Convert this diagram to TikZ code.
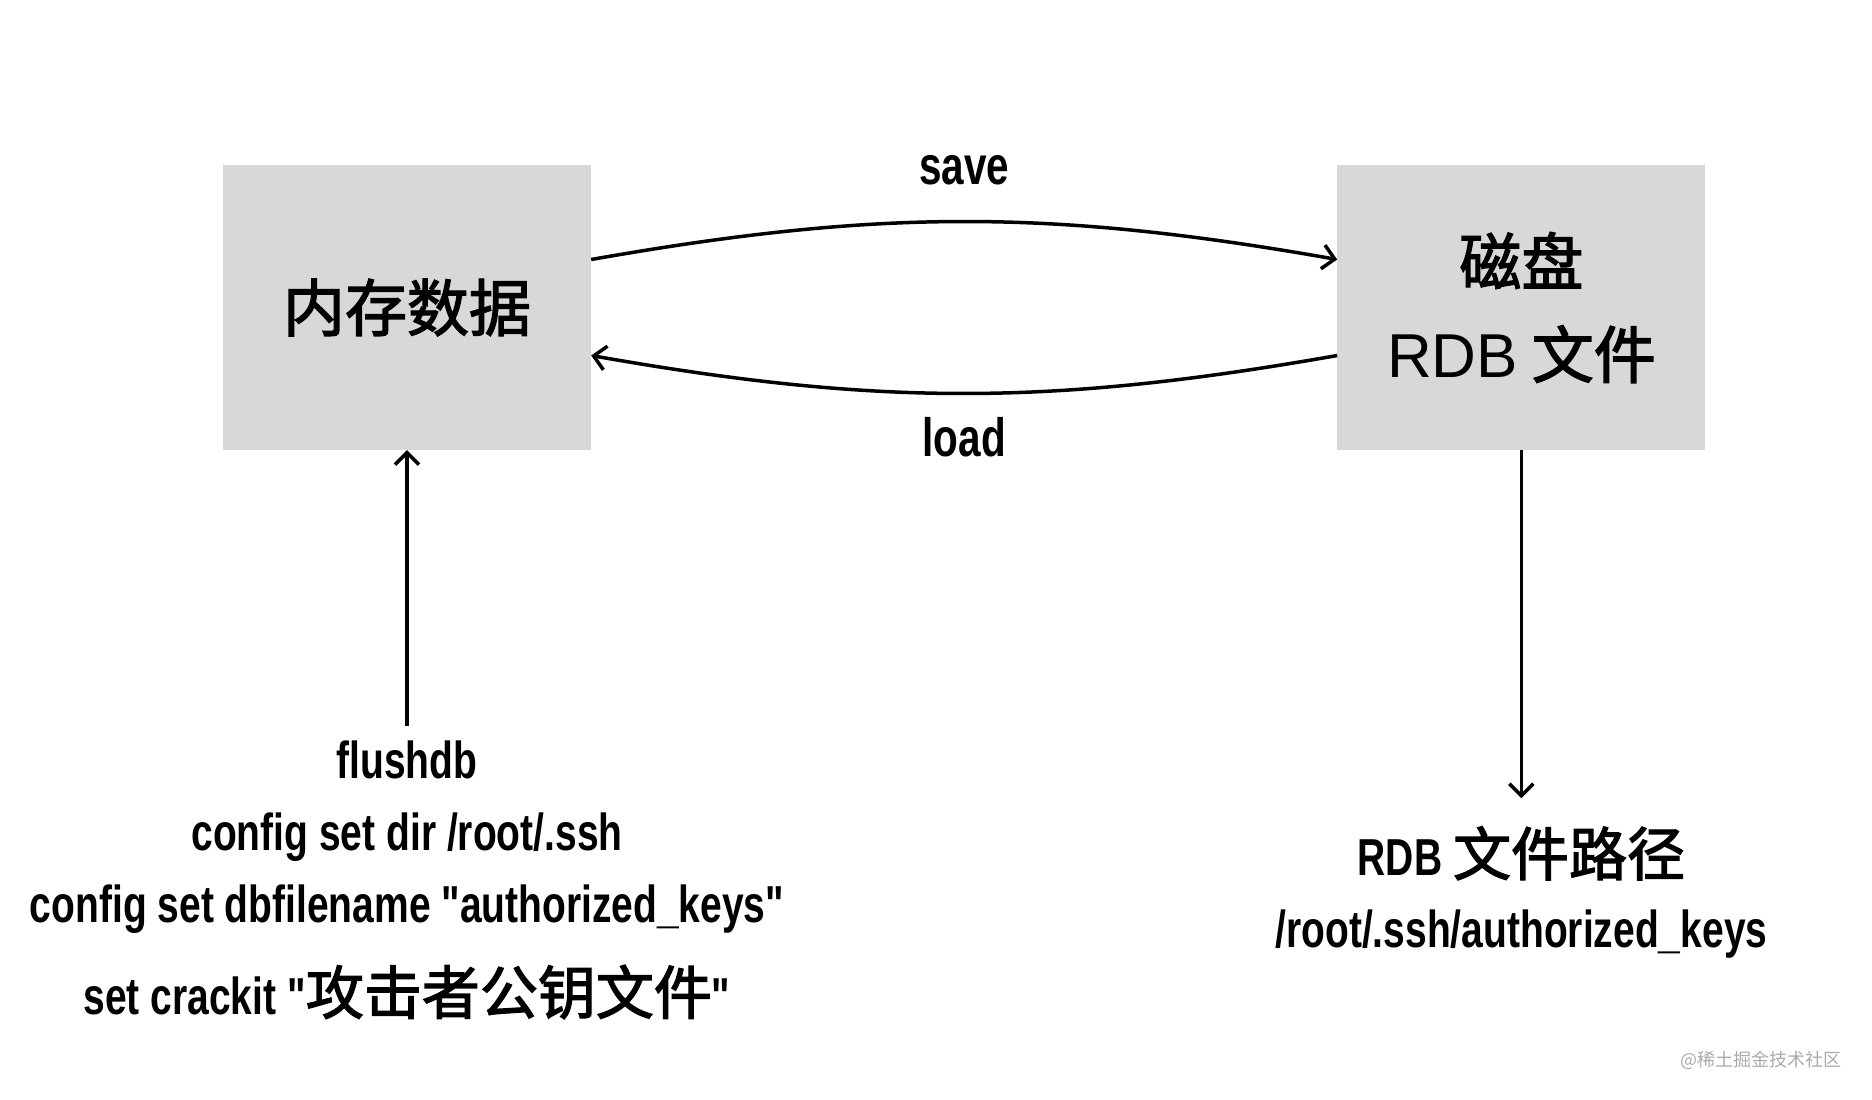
\documentclass[tikz,border=0pt]{standalone}
\usepackage{fontspec}
\setmainfont{Liberation Sans}
\newfontfamily\cjkfont[FakeBold=2.2]{Noto Sans CJK SC}
\newfontfamily\cjkplain{Noto Sans CJK SC}
\newfontfamily\condfont[FakeStretch=0.75]{Liberation Sans}
\usepackage{tikz}
\usetikzlibrary{arrows.meta,positioning}
\definecolor{boxgray}{HTML}{D8D8D8}
\definecolor{markgray}{HTML}{ABABAB}
\newcommand{\zhtext}[1]{{\cjkfont\mdseries\fontsize{58}{72}\selectfont #1}}
\tikzset{
  store/.style={rectangle,fill=boxgray,minimum width=368pt,minimum height=285pt,
    inner sep=0pt,align=center,font=\cjkfont\fontsize{62}{93}\selectfont},
  cmdtext/.style={align=center,inner sep=14pt,font=\condfont\bfseries\fontsize{52}{72}\selectfont},
  flowlabel/.style={inner sep=14pt,font=\condfont\bfseries\fontsize{54}{60}\selectfont},
  myarrow/.style={-{Straight Barb[length=12pt,width=24pt]},line width=3.5pt,black},
}

\begin{document}
\begin{tikzpicture}[x=1pt,y=1pt,node distance=746pt]
  \useasboundingbox (0,0) rectangle (1872,-1100);
  \node[store] (mem) at (407,-307.5) {内存数据};
  \node[store,right=746pt of mem] (disk) {磁盘\\{\rmfamily RDB} 文件};
  \draw[myarrow] ([yshift=48pt]mem.east) to[out=10,in=170]
    node[flowlabel,midway,above=21pt] {save} ([yshift=48pt]disk.west);
  \draw[myarrow] ([yshift=-48pt]disk.west) to[out=190,in=-10]
    node[flowlabel,midway,below=8pt] {load} ([yshift=-48pt]mem.east);
  \node[cmdtext,below=276pt of mem] (cmds) {flushdb\\config set dir /root/.ssh\\
    config set dbfilename "authorized\_keys"\\[20pt]set crackit "\zhtext{攻击者公钥文件}"};
  \node[cmdtext,below=348pt of disk,inner sep=28pt] (rdbpath) {RDB \zhtext{文件路径}\\/root/.ssh/authorized\_keys};
  \draw[myarrow] (cmds) -- (mem);
  \draw[myarrow] (disk) -- (rdbpath);
  \node[text=markgray,font=\cjkplain\fontsize{18}{20}\selectfont,anchor=east] (mark) at (1845,-1060) {@稀土掘金技术社区};
\end{tikzpicture}
\end{document}
